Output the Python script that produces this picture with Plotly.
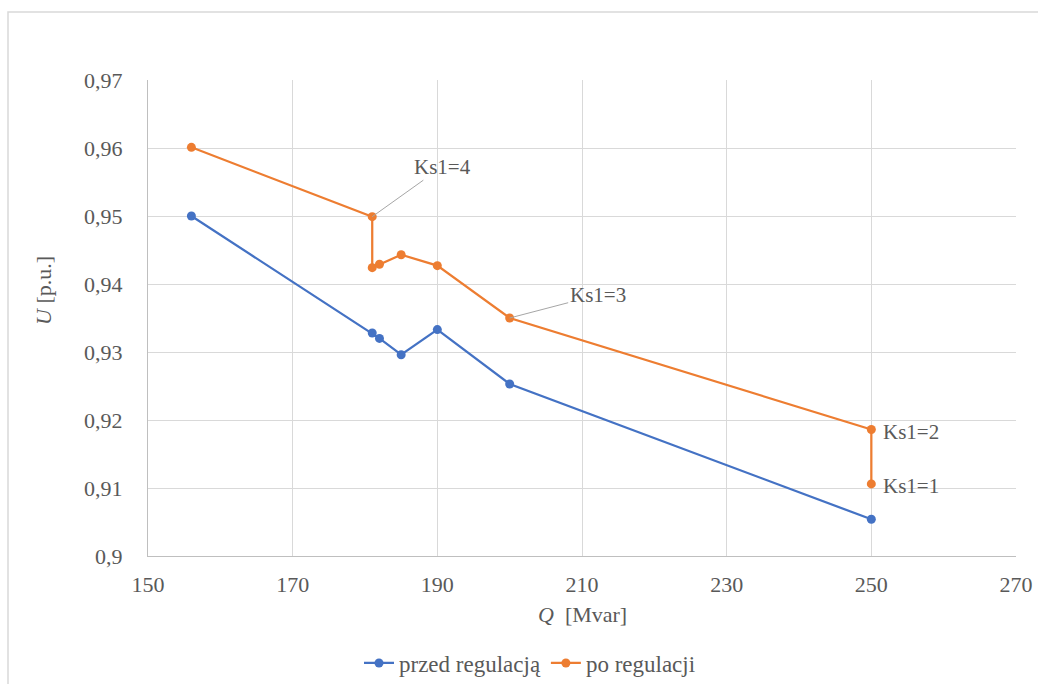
import plotly.graph_objects as go

q_before = [156, 181, 182, 185, 190, 200, 250]
u_before = [0.9500, 0.9328, 0.9320, 0.9296, 0.9333, 0.9253, 0.9054]

q_after = [156, 181, 181, 182, 185, 190, 200, 250, 250]
u_after = [0.9601, 0.9499, 0.9424, 0.9429, 0.9443, 0.9427, 0.9350, 0.9186, 0.9106]

x_ticks = [150, 170, 190, 210, 230, 250, 270]
x_tick_text = ["150", "170", "190", "210", "230", "250", "270"]
y_ticks = [0.90, 0.91, 0.92, 0.93, 0.94, 0.95, 0.96, 0.97]
y_tick_text = ["0,9", "0,91", "0,92", "0,93", "0,94", "0,95", "0,96", "0,97"]

# labels: (index in q_after, text)
ks_labels = [(1, "Ks1=4"), (6, "Ks1=3"), (7, "Ks1=2"), (8, "Ks1=1")]

BLUE = "#4472C4"
ORANGE = "#ED7D31"
GRAY_TXT = "#595959"
FONT = "Liberation Serif"

fig = go.Figure()
fig.add_trace(go.Scatter(x=q_before, y=u_before, mode="lines+markers", name="przed regulacją",
                         line=dict(color=BLUE, width=2.25), marker=dict(color=BLUE, size=9)))
fig.add_trace(go.Scatter(x=q_after, y=u_after, mode="lines+markers", name="po regulacji",
                         line=dict(color=ORANGE, width=2.25), marker=dict(color=ORANGE, size=9)))

L, R, T, B = 148, 22, 80, 128
W, H = 1038, 684
pw, ph = W - L - R, H - T - B

annotations = []
arrow_offsets = {1: (70, -50), 6: (88, -23)}
for idx, txt in ks_labels:
    if idx in arrow_offsets:
        ax, ay = arrow_offsets[idx]
        annotations.append(dict(x=q_after[idx], y=u_after[idx], xref="x", yref="y", text=txt,
                                showarrow=True, arrowhead=0, arrowwidth=1, arrowcolor="#A6A6A6",
                                ax=ax, ay=ay, standoff=0,
                                font=dict(family=FONT, size=21, color=GRAY_TXT)))
    else:
        annotations.append(dict(x=q_after[idx], y=u_after[idx], xref="x", yref="y", text=txt,
                                showarrow=False, xanchor="left", xshift=10, yshift=-2,
                                font=dict(family=FONT, size=21, color=GRAY_TXT)))

# y-axis title
annotations.append(dict(x=(43 - L) / pw, y=(H - B - 291) / ph, xref="paper", yref="paper",
                        text="<i>U</i> [p.u.]", showarrow=False, textangle=-90,
                        xanchor="center", yanchor="middle",
                        font=dict(family=FONT, size=22, color=GRAY_TXT)))
# x-axis title
annotations.append(dict(x=0.5, y=(H - B - 614) / ph, xref="paper", yref="paper",
                        text="<i>Q</i>\u00a0\u00a0[Mvar]", showarrow=False,
                        xanchor="center", yanchor="middle",
                        font=dict(family=FONT, size=22, color=GRAY_TXT)))

shapes = [dict(type="rect", xref="paper", yref="paper",
               x0=(8 - L) / pw, x1=(1045 - L) / pw,
               y0=(H - B - 695) / ph, y1=(H - B - 12) / ph,
               line=dict(color="#D9D9D9", width=1.5), fillcolor="rgba(0,0,0,0)", layer="below")]

fig.update_layout(
    width=W, height=H,
    margin=dict(l=L, r=R, t=T, b=B, autoexpand=False),
    paper_bgcolor="white", plot_bgcolor="white",
    font=dict(family=FONT, size=22, color=GRAY_TXT),
    showlegend=True,
    legend=dict(orientation="h", x=(530 - L) / pw, xanchor="center",
                y=(H - B - 663) / ph, yanchor="middle",
                font=dict(family=FONT, size=23, color=GRAY_TXT),
                itemwidth=30, tracegroupgap=0, bgcolor="rgba(0,0,0,0)"),
    annotations=annotations,
    shapes=shapes,
)
fig.update_xaxes(range=[150, 270], tickvals=x_ticks, ticktext=x_tick_text,
                 showgrid=True, gridcolor="#D9D9D9", gridwidth=1.3,
                 showline=True, linecolor="#BFBFBF", linewidth=1.3,
                 zeroline=False, ticks="", ticklabelstandoff=8, automargin=False,
                 tickfont=dict(family=FONT, size=22, color=GRAY_TXT))
fig.update_yaxes(range=[0.9, 0.97], tickvals=y_ticks, ticktext=y_tick_text,
                 showgrid=True, gridcolor="#D9D9D9", gridwidth=1.3,
                 showline=True, linecolor="#BFBFBF", linewidth=1.3,
                 zeroline=False, ticks="", ticklabelstandoff=20, automargin=False,
                 tickfont=dict(family=FONT, size=22, color=GRAY_TXT))

fig.write_html("out.html")
